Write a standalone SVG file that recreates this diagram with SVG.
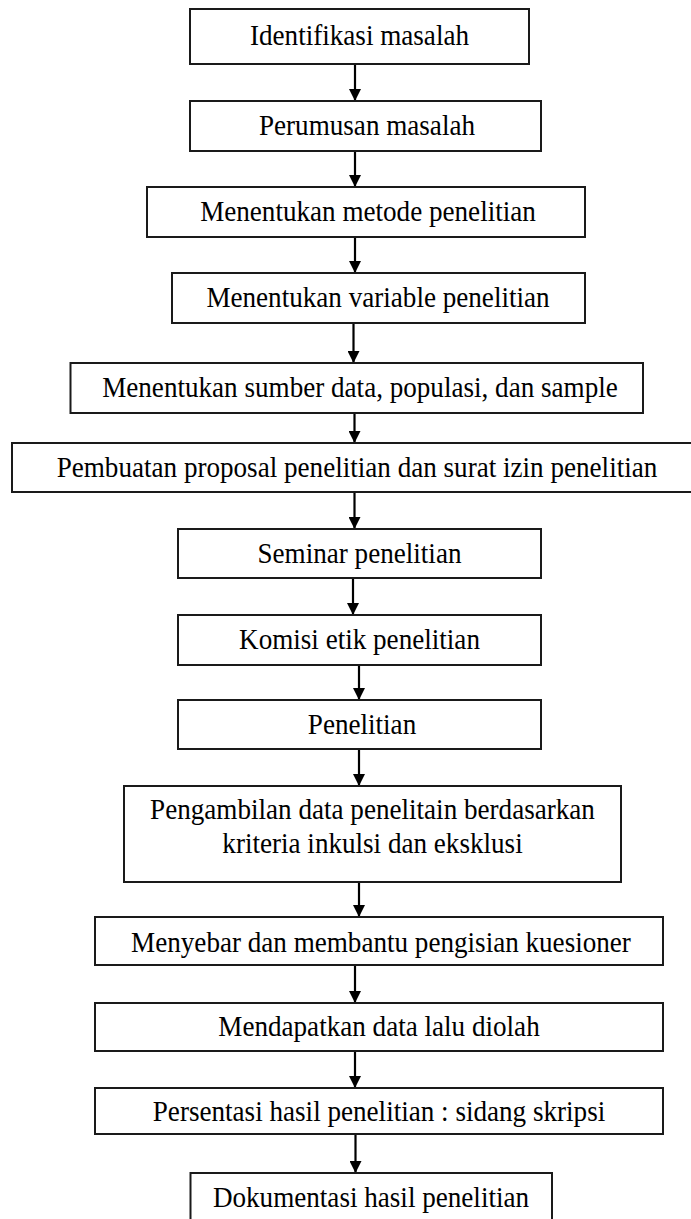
<svg xmlns="http://www.w3.org/2000/svg" width="691" height="1219" viewBox="0 0 691 1219">
<style>
.box{fill:#fff;stroke:#1a1a1a;stroke-width:2}
.t{font-family:"Liberation Serif","Times New Roman",serif;font-size:29px;fill:#000;text-anchor:middle}
.c{stroke:#000;stroke-width:2.2;fill:none;marker-end:url(#ah)}
</style>
<defs>
<marker id="ah" markerUnits="userSpaceOnUse" markerWidth="12" markerHeight="12" refX="12" refY="6" orient="auto">
<path d="M0,0 L12,6 L0,12 z" fill="#000"/>
</marker>
</defs>
<rect width="691" height="1219" fill="#fff"/>
<g id="connectors">
<line class="c" x1="355" y1="64" x2="355" y2="101"/>
<line class="c" x1="355" y1="151" x2="355" y2="187"/>
<line class="c" x1="355" y1="237" x2="355" y2="273"/>
<line class="c" x1="353.5" y1="323" x2="353.5" y2="363"/>
<line class="c" x1="354.5" y1="413" x2="354.5" y2="443"/>
<line class="c" x1="354.5" y1="492" x2="354.5" y2="529"/>
<line class="c" x1="353" y1="578" x2="353" y2="615"/>
<line class="c" x1="359" y1="665" x2="359" y2="700"/>
<line class="c" x1="359" y1="749" x2="359" y2="786"/>
<line class="c" x1="359" y1="882" x2="359" y2="917"/>
<line class="c" x1="355" y1="965" x2="355" y2="1003"/>
<line class="c" x1="355" y1="1051" x2="355" y2="1088"/>
<line class="c" x1="355.5" y1="1134" x2="355.5" y2="1173"/>
</g>
<g id="n1"><rect class="box" x="190" y="9" width="339" height="55"/><text class="t" transform="translate(359.5,44.5) scale(0.935,1)">Identifikasi masalah</text></g>
<g id="n2"><rect class="box" x="190" y="101" width="351" height="50"/><text class="t" transform="translate(367,134.5) scale(0.935,1)">Perumusan masalah</text></g>
<g id="n3"><rect class="box" x="147" y="187" width="438" height="50"/><text class="t" transform="translate(368,221) scale(0.935,1)">Menentukan metode penelitian</text></g>
<g id="n4"><rect class="box" x="172" y="273" width="413" height="50"/><text class="t" transform="translate(378,307) scale(0.935,1)">Menentukan variable penelitian</text></g>
<g id="n5"><rect class="box" x="70.5" y="363" width="572.5" height="50"/><text class="t" transform="translate(360,397) scale(0.935,1)">Menentukan sumber data, populasi, dan sample</text></g>
<g id="n6"><rect class="box" x="12" y="443" width="690" height="49"/><text class="t" transform="translate(357,477) scale(0.935,1)">Pembuatan proposal penelitian dan surat izin penelitian</text></g>
<g id="n7"><rect class="box" x="178" y="529" width="363" height="49"/><text class="t" transform="translate(359.5,562.5) scale(0.935,1)">Seminar penelitian</text></g>
<g id="n8"><rect class="box" x="178" y="615" width="363" height="50"/><text class="t" transform="translate(359.5,648.5) scale(0.935,1)">Komisi etik penelitian</text></g>
<g id="n9"><rect class="box" x="178" y="700" width="363" height="49"/><text class="t" transform="translate(362,734) scale(0.935,1)">Penelitian</text></g>
<g id="n10"><rect class="box" x="124" y="786" width="497" height="96"/><text class="t" transform="translate(372.5,819) scale(0.935,1)">Pengambilan data penelitain berdasarkan</text><text class="t" transform="translate(372.5,853) scale(0.935,1)">kriteria inkulsi dan eksklusi</text></g>
<g id="n11"><rect class="box" x="95" y="917" width="568" height="48"/><text class="t" transform="translate(381,952) scale(0.935,1)">Menyebar dan membantu pengisian kuesioner</text></g>
<g id="n12"><rect class="box" x="95" y="1003" width="568" height="48"/><text class="t" transform="translate(379,1036) scale(0.935,1)">Mendapatkan data lalu diolah</text></g>
<g id="n13"><rect class="box" x="95" y="1088" width="568" height="46"/><text class="t" transform="translate(379,1121) scale(0.935,1)">Persentasi hasil penelitian : sidang skripsi</text></g>
<g id="n14"><rect class="box" x="190.5" y="1173" width="361.5" height="60"/><text class="t" transform="translate(371,1207) scale(0.935,1)">Dokumentasi hasil penelitian</text></g>
</svg>
